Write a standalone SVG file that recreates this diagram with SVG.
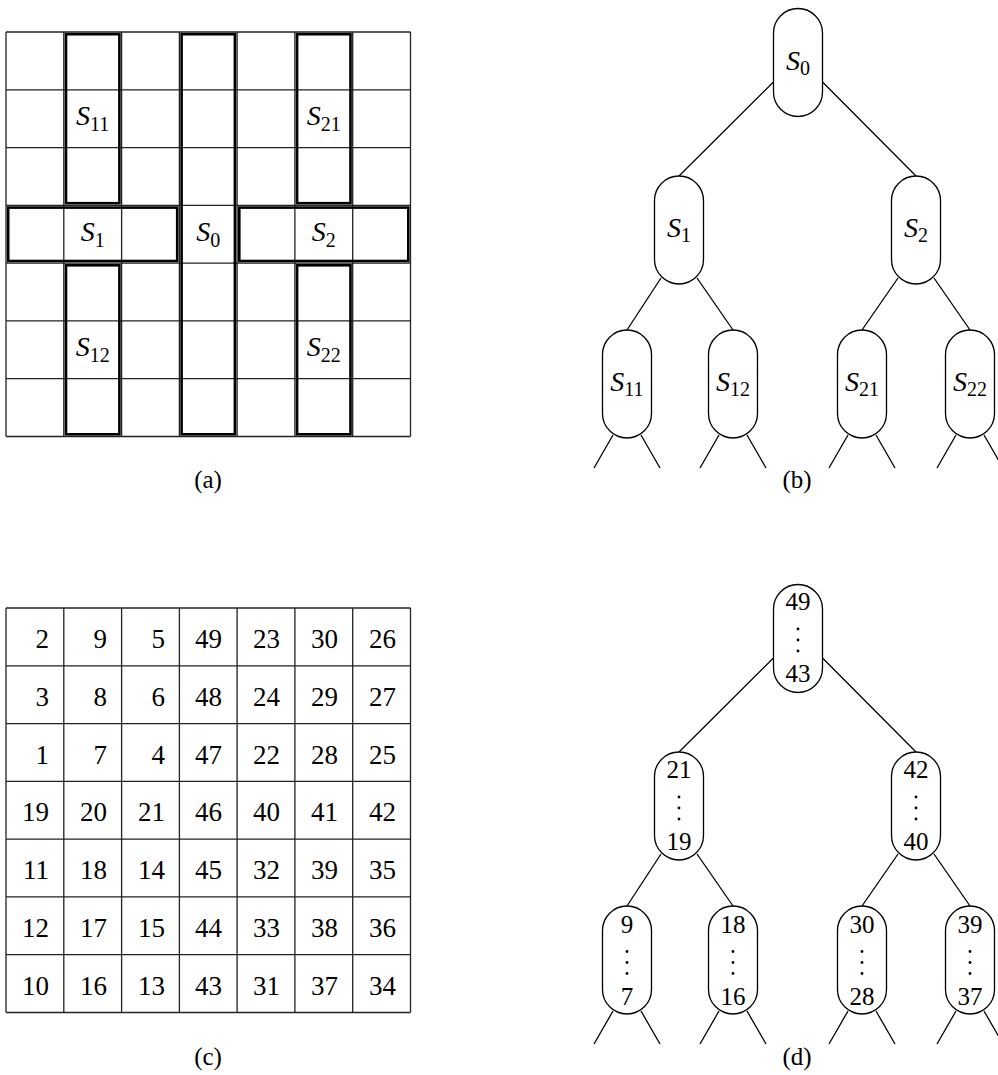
<svg xmlns="http://www.w3.org/2000/svg" width="998" height="1075" viewBox="0 0 998 1075">
<defs>
<style>
.grid{stroke:#222;stroke-width:1.3;fill:none}
.thick{stroke:#000;stroke-width:2.6;fill:none}
.node{stroke:#000;stroke-width:1.3;fill:#fff}
.edge{stroke:#000;stroke-width:1.3;fill:none}
.lbl{font-family:"Liberation Serif",serif;font-size:25px;fill:#000;text-anchor:middle}
.s{font-family:"Liberation Serif",serif;font-style:italic;font-size:28px;fill:#000;text-anchor:middle}
.sub{font-style:normal;font-size:20px}
.num{font-family:"Liberation Serif",serif;font-size:27px;fill:#000;text-anchor:end}
.dn{font-family:"Liberation Serif",serif;font-size:25px;fill:#000;text-anchor:middle}
</style>
<g id="gridlines">
<path class="grid" d="M6,0H410.5M6,57.8H410.5M6,115.6H410.5M6,173.4H410.5M6,231.1H410.5M6,288.9H410.5M6,346.7H410.5M6,404.5H410.5M6,0V404.5M63.8,0V404.5M121.6,0V404.5M179.4,0V404.5M237.1,0V404.5M294.9,0V404.5M352.7,0V404.5M410.5,0V404.5"/>
</g>
</defs>
<rect width="998" height="1075" fill="#fff"/>

<!-- Panel (a) -->
<g id="panel-a">
<use href="#gridlines" transform="translate(0,32)"/>
<rect class="thick" x="66" y="34.2" width="53.4" height="169"/>
<rect class="thick" x="297.1" y="34.2" width="53.4" height="169"/>
<rect class="thick" x="8.2" y="207.6" width="169" height="53.4"/>
<rect class="thick" x="181.6" y="34.2" width="53.3" height="400.1"/>
<rect class="thick" x="239.3" y="207.6" width="169" height="53.4"/>
<rect class="thick" x="66" y="265.3" width="53.4" height="169"/>
<rect class="thick" x="297.1" y="265.3" width="53.4" height="169"/>
<text class="s" x="92.7" y="125">S<tspan class="sub" dy="6">11</tspan></text>
<text class="s" x="323.8" y="125">S<tspan class="sub" dy="6">21</tspan></text>
<text class="s" x="92.7" y="241">S<tspan class="sub" dy="6">1</tspan></text>
<text class="s" x="208.3" y="241">S<tspan class="sub" dy="6">0</tspan></text>
<text class="s" x="323.8" y="241">S<tspan class="sub" dy="6">2</tspan></text>
<text class="s" x="92.7" y="356">S<tspan class="sub" dy="6">12</tspan></text>
<text class="s" x="323.8" y="356">S<tspan class="sub" dy="6">22</tspan></text>
<text class="lbl" x="208" y="488">(a)</text>
</g>

<!-- Panel (b) -->
<g id="edges-b">
<path class="edge" d="M773.5,82L679,176M822.5,82L916,176M661,278L627,330M697,278L733,330M898,278L862,330M934,278L970,330"/>
<path class="edge" d="M613,435L594,468M641,435L660,468M719,435L700,468M747,435L766,468M848,435L829,468M876,435L895,468M956,435L937,468M984,435L1003,468"/>
</g>
<g id="b-S0"><rect class="node" x="773.5" y="8.5" width="49" height="108" rx="24.5"/><text class="s" x="798" y="70">S<tspan class="sub" dy="5">0</tspan></text></g>
<g id="b-S1"><rect class="node" x="654.5" y="176" width="49" height="108" rx="24.5"/><text class="s" x="679" y="237">S<tspan class="sub" dy="5">1</tspan></text></g>
<g id="b-S2"><rect class="node" x="891.5" y="176" width="49" height="108" rx="24.5"/><text class="s" x="916" y="237">S<tspan class="sub" dy="5">2</tspan></text></g>
<g id="b-S11"><rect class="node" x="602.5" y="330" width="49" height="108" rx="24.5"/><text class="s" x="627" y="391">S<tspan class="sub" dy="5">11</tspan></text></g>
<g id="b-S12"><rect class="node" x="708.5" y="330" width="49" height="108" rx="24.5"/><text class="s" x="733" y="391">S<tspan class="sub" dy="5">12</tspan></text></g>
<g id="b-S21"><rect class="node" x="837.5" y="330" width="49" height="108" rx="24.5"/><text class="s" x="862" y="391">S<tspan class="sub" dy="5">21</tspan></text></g>
<g id="b-S22"><rect class="node" x="945.5" y="330" width="49" height="108" rx="24.5"/><text class="s" x="970" y="391">S<tspan class="sub" dy="5">22</tspan></text></g>
<text class="lbl" x="797" y="488">(b)</text>

<!-- Panel (c) -->
<g id="panel-c">
<use href="#gridlines" transform="translate(0,608)"/>
<g class="num">
<text x="49" y="648">2</text><text x="107" y="648">9</text><text x="165" y="648">5</text><text x="222" y="648">49</text><text x="280" y="648">23</text><text x="338" y="648">30</text><text x="396" y="648">26</text>
<text x="49" y="706">3</text><text x="107" y="706">8</text><text x="165" y="706">6</text><text x="222" y="706">48</text><text x="280" y="706">24</text><text x="338" y="706">29</text><text x="396" y="706">27</text>
<text x="49" y="764">1</text><text x="107" y="764">7</text><text x="165" y="764">4</text><text x="222" y="764">47</text><text x="280" y="764">22</text><text x="338" y="764">28</text><text x="396" y="764">25</text>
<text x="49" y="821">19</text><text x="107" y="821">20</text><text x="165" y="821">21</text><text x="222" y="821">46</text><text x="280" y="821">40</text><text x="338" y="821">41</text><text x="396" y="821">42</text>
<text x="49" y="879">11</text><text x="107" y="879">18</text><text x="165" y="879">14</text><text x="222" y="879">45</text><text x="280" y="879">32</text><text x="338" y="879">39</text><text x="396" y="879">35</text>
<text x="49" y="937">12</text><text x="107" y="937">17</text><text x="165" y="937">15</text><text x="222" y="937">44</text><text x="280" y="937">33</text><text x="338" y="937">38</text><text x="396" y="937">36</text>
<text x="49" y="995">10</text><text x="107" y="995">16</text><text x="165" y="995">13</text><text x="222" y="995">43</text><text x="280" y="995">31</text><text x="338" y="995">37</text><text x="396" y="995">34</text>
</g>
<text class="lbl" x="208" y="1065">(c)</text>
</g>

<!-- Panel (d) -->
<g id="edges-d" transform="translate(0,576)">
<path class="edge" d="M773.5,82L679,176M822.5,82L916,176M661,278L627,330M697,278L733,330M898,278L862,330M934,278L970,330"/>
<path class="edge" d="M613,435L594,468M641,435L660,468M719,435L700,468M747,435L766,468M848,435L829,468M876,435L895,468M956,435L937,468M984,435L1003,468"/>
</g>
<g id="d-49"><rect class="node" x="773.5" y="584.5" width="49" height="108" rx="24.5"/><text class="dn" x="798" y="610">49</text><circle cx="798" cy="629" r="1.4"/><circle cx="798" cy="640" r="1.4"/><circle cx="798" cy="651" r="1.4"/><text class="dn" x="798" y="682">43</text></g>
<g id="d-21"><rect class="node" x="654.5" y="752" width="49" height="108" rx="24.5"/><text class="dn" x="679" y="777.5">21</text><circle cx="679" cy="797" r="1.4"/><circle cx="679" cy="808" r="1.4"/><circle cx="679" cy="819" r="1.4"/><text class="dn" x="679" y="850">19</text></g>
<g id="d-42"><rect class="node" x="891.5" y="752" width="49" height="108" rx="24.5"/><text class="dn" x="916" y="777.5">42</text><circle cx="916" cy="797" r="1.4"/><circle cx="916" cy="808" r="1.4"/><circle cx="916" cy="819" r="1.4"/><text class="dn" x="916" y="850">40</text></g>
<g id="d-9"><rect class="node" x="602.5" y="906" width="49" height="108" rx="24.5"/><text class="dn" x="627" y="932.5">9</text><circle cx="627" cy="951.5" r="1.4"/><circle cx="627" cy="962.5" r="1.4"/><circle cx="627" cy="973.5" r="1.4"/><text class="dn" x="627" y="1005">7</text></g>
<g id="d-18"><rect class="node" x="708.5" y="906" width="49" height="108" rx="24.5"/><text class="dn" x="733" y="932.5">18</text><circle cx="733" cy="951.5" r="1.4"/><circle cx="733" cy="962.5" r="1.4"/><circle cx="733" cy="973.5" r="1.4"/><text class="dn" x="733" y="1005">16</text></g>
<g id="d-30"><rect class="node" x="837.5" y="906" width="49" height="108" rx="24.5"/><text class="dn" x="862" y="932.5">30</text><circle cx="862" cy="951.5" r="1.4"/><circle cx="862" cy="962.5" r="1.4"/><circle cx="862" cy="973.5" r="1.4"/><text class="dn" x="862" y="1005">28</text></g>
<g id="d-39"><rect class="node" x="945.5" y="906" width="49" height="108" rx="24.5"/><text class="dn" x="970" y="932.5">39</text><circle cx="970" cy="951.5" r="1.4"/><circle cx="970" cy="962.5" r="1.4"/><circle cx="970" cy="973.5" r="1.4"/><text class="dn" x="970" y="1005">37</text></g>
<text class="lbl" x="797" y="1065">(d)</text>
</svg>
